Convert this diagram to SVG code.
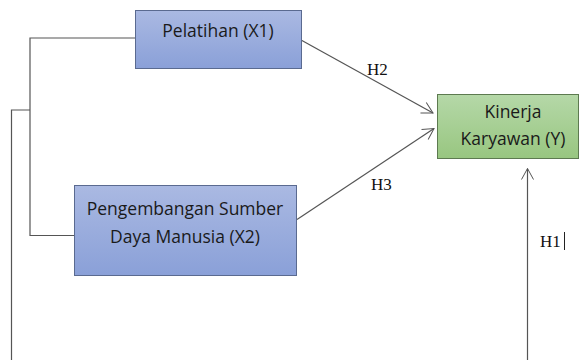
<svg xmlns="http://www.w3.org/2000/svg" width="579" height="360" viewBox="0 0 579 360">
<defs>
<linearGradient id="gBlue" x1="0" y1="0" x2="0" y2="1"><stop offset="0" stop-color="#aab9e2"/><stop offset="1" stop-color="#8aa0d8"/></linearGradient>
<linearGradient id="gGreen" x1="0" y1="0" x2="0" y2="1"><stop offset="0" stop-color="#b5d8a8"/><stop offset="1" stop-color="#98c680"/></linearGradient>
<marker id="arr" markerWidth="14" markerHeight="14" refX="12" refY="7" orient="auto" markerUnits="userSpaceOnUse"><path d="M1,1 L12,7 L1,13" fill="none" stroke="#555" stroke-width="1"/></marker>
<style>
.box{stroke:#5a6a90;stroke-width:1}
.gbox{stroke:#5d7a50;stroke-width:1}
.t{font-family:"Open Sans","Liberation Sans",sans-serif;font-size:17.5px;fill:#1a1a1a;text-anchor:middle}
.h{font-family:"Liberation Serif","Times New Roman",serif;font-size:17px;fill:#111}
.c{fill:none;stroke:#555;stroke-width:1.2}
</style>
</defs>
<g id="connectors">
<polyline class="c" points="135,38 30,38 30,235.5 74,235.5"/>
<polyline class="c" points="30,110 11.5,110 11.5,360"/>
<line class="c" x1="301" y1="40" x2="433" y2="113" marker-end="url(#arr)"/>
<line class="c" x1="297" y1="219.5" x2="434" y2="128.5" marker-end="url(#arr)"/>
<line class="c" x1="527.5" y1="360" x2="527.5" y2="168.5" marker-end="url(#arr)"/>
<text class="h" x="367" y="75">H2</text>
<text class="h" x="371" y="190">H3</text>
<text class="h" x="540" y="247">H1</text>
<line x1="564.5" y1="232" x2="564.5" y2="250" stroke="#222" stroke-width="1"/>
</g>
<g id="x1">
<rect class="box" x="135.5" y="10.5" width="166" height="58" fill="url(#gBlue)"/>
<text class="t" x="218" y="37">Pelatihan (X1)</text>
</g>
<g id="x2">
<rect class="box" x="74.5" y="185.5" width="222" height="90" fill="url(#gBlue)"/>
<text class="t" x="185" y="215">Pengembangan Sumber</text>
<text class="t" x="185" y="243">Daya Manusia (X2)</text>
</g>
<g id="y">
<rect class="gbox" x="437.5" y="94.5" width="141" height="64" fill="url(#gGreen)"/>
<text class="t" x="513" y="118">Kinerja</text>
<text class="t" x="513" y="145">Karyawan (Y)</text>
</g>
</svg>
